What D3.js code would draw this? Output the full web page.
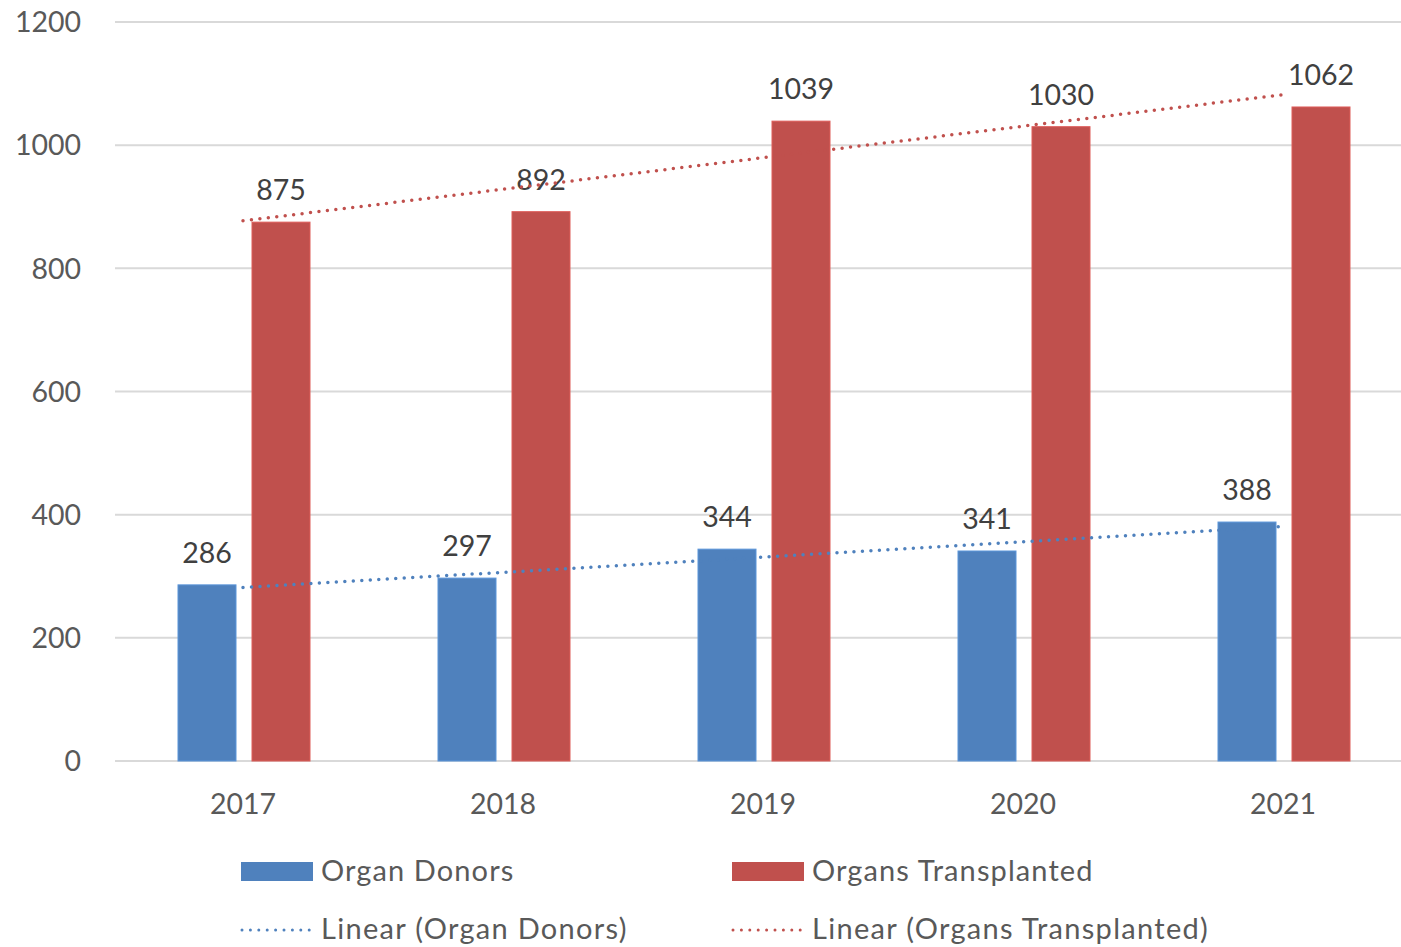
<!DOCTYPE html>
<html><head><meta charset="utf-8">
<script src="https://cdn.jsdelivr.net/npm/d3@7"></script>
<style>body{margin:0;background:#fff}svg{display:block;font-family:Lato,"Open Sans",sans-serif}</style>
</head><body><svg id="c" width="1401" height="947"></svg>
<script>
const years = ["2017","2018","2019","2020","2021"];
const donors = [286,297,344,341,388];
const transplanted = [875,892,1039,1030,1062];
const yTicks = [0,200,400,600,800,1000,1200];
const seriesNames = ["Organ Donors","Organs Transplanted"];
const trendNames = ["Linear (Organ Donors)","Linear (Organs Transplanted)"];
const colors = ["#4f81bd","#c0504d"];

const svg = d3.select("#c");
const x = d3.scaleBand().domain(years).range([113,1413]);
const y = d3.scaleLinear().domain([0,1200]).range([761,22]);
const txt = "#595959";

svg.append("g").selectAll("line").data(yTicks).join("line")
  .attr("x1",115).attr("x2",1401).attr("y1",d=>y(d)).attr("y2",d=>y(d))
  .attr("stroke","#d9d9d9").attr("stroke-width",2);
svg.append("g").selectAll("text").data(yTicks).join("text")
  .attr("x",81).attr("y",d=>y(d)).attr("dy","0.36em").attr("text-anchor","end")
  .attr("font-size",28.5).attr("fill",txt).text(d=>d);
svg.append("g").selectAll("text").data(years).join("text")
  .attr("x",d=>x(d)+x.bandwidth()/2).attr("y",804).attr("dy","0.36em").attr("text-anchor","middle")
  .attr("font-size",28.5).attr("fill",txt).text(d=>d);

const bw = 58, offs = [-36,38];
const series = [donors, transplanted];
series.forEach((vals,si)=>{
  const g = svg.append("g");
  g.selectAll("rect").data(vals).join("rect")
    .attr("x",(d,i)=>x(years[i])+x.bandwidth()/2+offs[si]-bw/2)
    .attr("width",bw).attr("y",d=>y(d)).attr("height",d=>y(0)-y(d))
    .attr("fill",colors[si]).attr("stroke",d3.color(colors[si]).brighter(0.4)).attr("stroke-width",1);
  g.selectAll("text").data(vals).join("text")
    .attr("x",(d,i)=>x(years[i])+x.bandwidth()/2+offs[si])
    .attr("y",d=>y(d)-22).attr("text-anchor","middle")
    .attr("font-size",28.5).attr("fill","#404040").text(d=>d);
});

series.forEach((vals,si)=>{
  const n = vals.length, xs = d3.range(1,n+1);
  const mx = d3.mean(xs), my = d3.mean(vals);
  const slope = d3.sum(xs,(xi,i)=>(xi-mx)*(vals[i]-my))/d3.sum(xs,xi=>(xi-mx)**2);
  const b = my - slope*mx;
  const pts = [0,n-1].map(i=>[x(years[i])+x.bandwidth()/2, y(b+slope*xs[i])]);
  svg.append("line").attr("x1",pts[0][0]).attr("y1",pts[0][1]).attr("x2",pts[1][0]).attr("y2",pts[1][1])
    .attr("stroke",colors[si]).attr("stroke-width",3.5).attr("stroke-linecap","round")
    .attr("stroke-dasharray","0 8.5");
});

const lx = [241,732];
seriesNames.forEach((nm,i)=>{
  svg.append("rect").attr("x",lx[i]).attr("y",862).attr("width",72).attr("height",19).attr("fill",colors[i]);
  svg.append("text").attr("x",lx[i]+80).attr("y",871).attr("dy","0.36em").attr("font-size",29)
    .attr("letter-spacing",1.1).attr("fill",txt).text(nm);
  svg.append("line").attr("x1",lx[i]+1).attr("x2",lx[i]+70).attr("y1",930).attr("y2",930)
    .attr("stroke",colors[i]).attr("stroke-width",3).attr("stroke-linecap","round").attr("stroke-dasharray","0 8.4");
  svg.append("text").attr("x",lx[i]+80).attr("y",929).attr("dy","0.36em").attr("font-size",29)
    .attr("letter-spacing",1.3).attr("fill",txt).text(trendNames[i]);
});
</script></body></html>
